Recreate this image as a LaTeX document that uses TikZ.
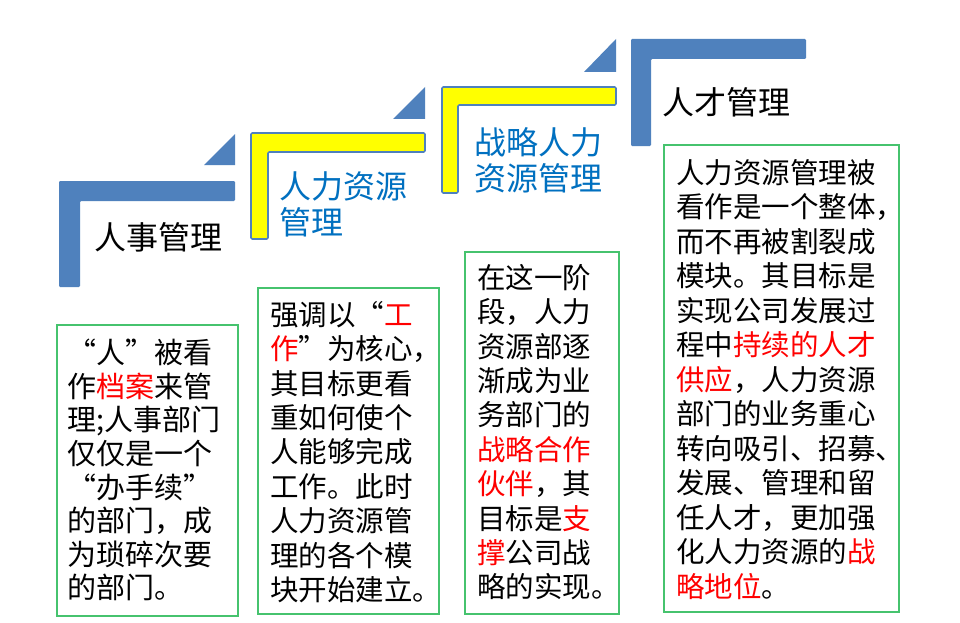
\documentclass[tikz,border=0pt]{standalone}
\usepackage{fontspec}
\setmainfont{Noto Sans CJK SC}
\definecolor{stepblue}{RGB}{79,129,189}
\definecolor{stepyellow}{RGB}{255,255,0}
\definecolor{titleblue}{RGB}{0,112,192}
\definecolor{boxgreen}{RGB}{70,195,110}
\definecolor{hired}{RGB}{255,0,0}
\newcommand{\hl}[1]{\textcolor{hired}{#1}}
\begin{document}
\begin{tikzpicture}[x=1pt,y=-1pt,
  bluestep/.style={fill=stepblue,draw=none,rounded corners=1.2pt},
  yellowstep/.style={fill=stepyellow,draw=stepblue,line width=1.6pt,rounded corners=1.2pt},
  tri/.style={fill=stepblue,draw=none},
  box/.style={draw=boxgreen,line width=1.5pt,fill=none,rectangle,inner sep=0pt,anchor=north west},
  bodytxt/.style={anchor=north west,inner sep=0pt,align=left,text=black,font=\fontsize{28.5}{34.4}\selectfont},
  serifttl/.style={inner sep=0pt,text=black,font=\fontsize{32}{36}\selectfont},
  bluettl/.style={inner sep=0pt,anchor=north west,align=left,text=titleblue,font=\fontsize{32}{36.5}\selectfont}
]
\useasboundingbox (0,0) rectangle (960,623);
\fill[white] (0,0) rectangle (960,623);

% step 1
\path[bluestep] (59,181) -- (235,181) -- (235,201) -- (80,201) -- (80,287) -- (59,287) -- cycle;
\path[tri] (204,165) -- (235,134) -- (235,165) -- cycle;
% step 2
\path[yellowstep] (251,133) -- (425,133) -- (425,152) -- (268,152) -- (268,239) -- (251,239) -- cycle;
\path[tri] (393,119) -- (425,87) -- (425,119) -- cycle;
% step 3
\path[yellowstep] (442,87) -- (616,87) -- (616,105) -- (458,105) -- (458,193) -- (442,193) -- cycle;
\path[tri] (584,72) -- (616,39) -- (616,72) -- cycle;
% step 4
\path[bluestep] (631,39) -- (806,39) -- (806,59) -- (651,59) -- (651,146) -- (631,146) -- cycle;

% titles
\node[serifttl] (s1) at (158.5,237) {人事管理};
\node[bluettl] (s2) at (279,171) {人力资源\\管理};
\node[bluettl] (s3) at (474,127) {战略人力\\资源管理};
\node[serifttl] (s4) at (726.5,102) {人才管理};

% boxes
\node[box,minimum width=181pt,minimum height=291pt] (b1) at (56,324) {};
\node[box,minimum width=181pt,minimum height=326pt] (b2) at (257,287) {};
\node[box,minimum width=154pt,minimum height=362pt] (b3) at (464,251) {};
\node[box,minimum width=235pt,minimum height=467pt] (b4) at (663,144) {};

\node[bodytxt,font=\fontsize{29}{33.6}\selectfont] (t1) at (67,339) {“人”被看\\
作\hl{档案}来管\\
理;人事部门\\
仅仅是一个\\
“办手续”\\
的部门，成\\
为琐碎次要\\
的部门。};

\node[bodytxt] (t2) at (270,301) {强调以“\hl{工}\\
\hl{作}”为核心，\\
其目标更看\\
重如何使个\\
人能够完成\\
工作。此时\\
人力资源管\\
理的各个模\\
块开始建立。};

\node[bodytxt] (t3) at (477,264) {在这一阶\\
段，人力\\
资源部逐\\
渐成为业\\
务部门的\\
\hl{战略合作}\\
\hl{伙伴}，其\\
目标是\hl{支}\\
\hl{撑}公司战\\
略的实现。};

\node[bodytxt,font=\fontsize{28.5}{34.5}\selectfont] (t4) at (676,159) {人力资源管理被\\
看作是一个整体，\\
而不再被割裂成\\
模块。其目标是\\
实现公司发展过\\
程中\hl{持续的人才}\\
\hl{供应}，人力资源\\
部门的业务重心\\
转向吸引、招募、\\
发展、管理和留\\
任人才，更加强\\
化人力资源的\hl{战}\\
\hl{略地位}。};
\end{tikzpicture}
\end{document}
